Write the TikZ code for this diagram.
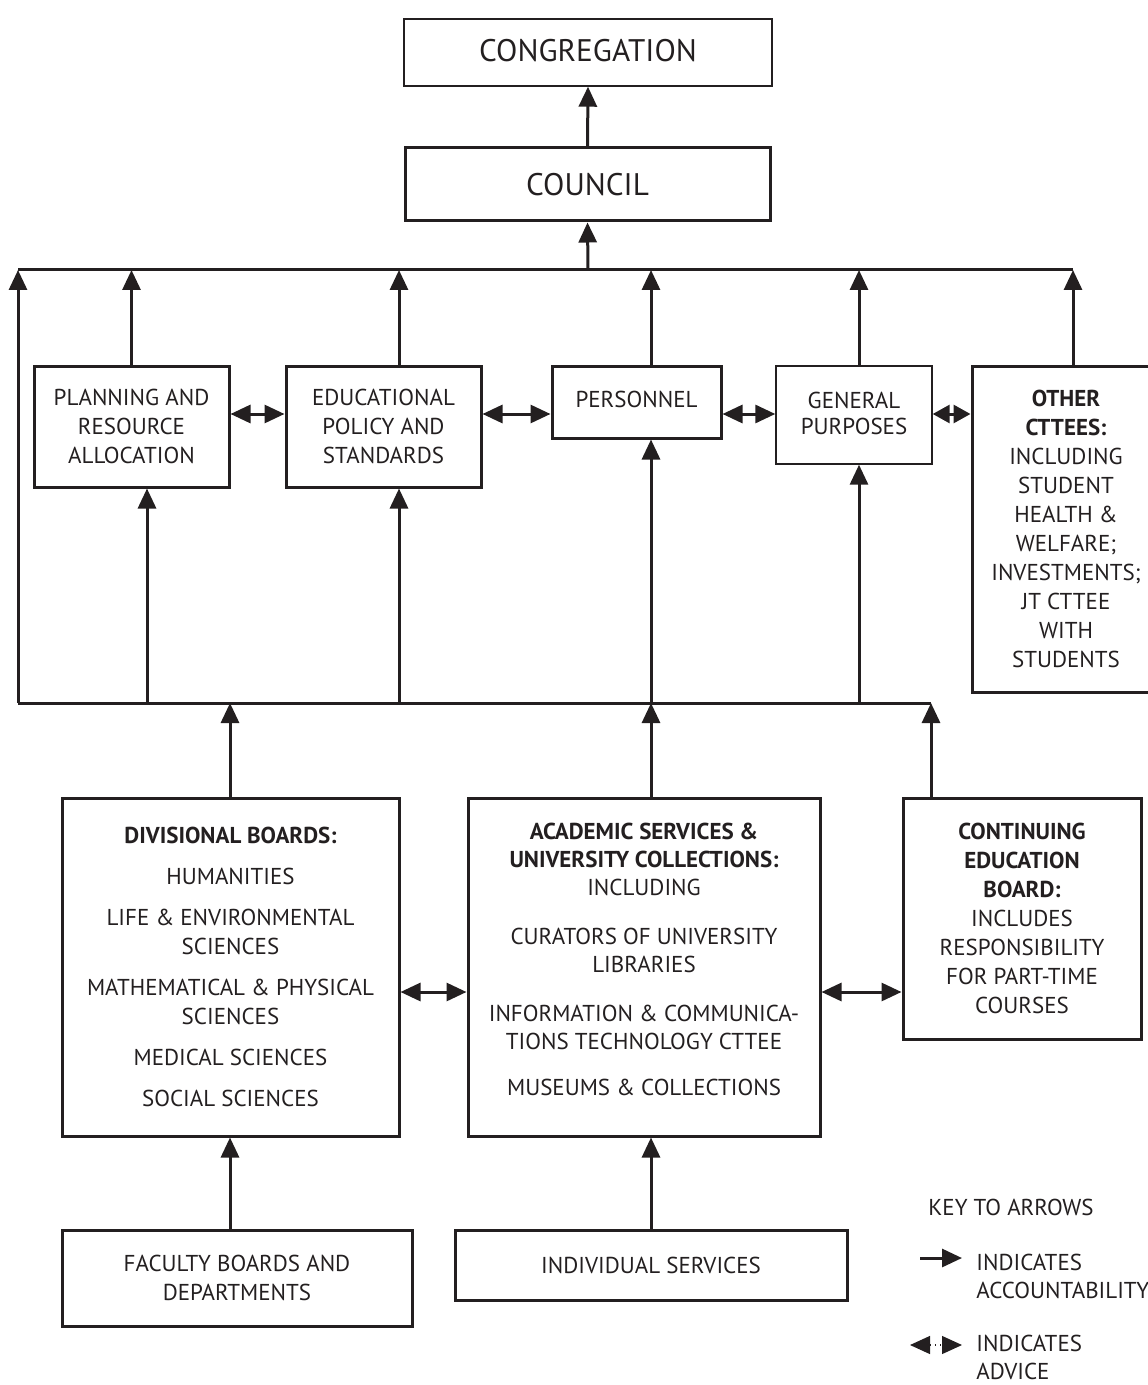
\documentclass[tikz,border=0pt]{standalone}
\usepackage{fontspec}
\setmainfont{PT Sans}
\usetikzlibrary{arrows.meta}
\definecolor{ink}{RGB}{35,31,32}
\begin{document}
\begin{tikzpicture}[x=0.5pt,y=-0.5pt,
  box/.style={draw=ink, line width=1.5pt, rectangle, inner sep=0pt, align=center, text=ink,
              font=\fontsize{11.5}{14.5}\selectfont},
  thinbox/.style={box, line width=0.7pt},
  big/.style={font=\fontsize{15.6}{19}\selectfont},
  acc/.style={draw=ink, line width=1.5pt, -{Triangle[length=10pt,width=9pt]}},
  adv/.style={draw=ink, line width=1.5pt, {Triangle[length=10pt,width=9pt]}-{Triangle[length=10pt,width=9pt]}},
  advshort/.style={draw=ink, line width=1.5pt, {Triangle[length=8.5pt,width=9pt]}-{Triangle[length=8.5pt,width=9pt]}},
  busline/.style={draw=ink, line width=1.5pt},
  plaintxt/.style={inner sep=0pt, align=center, text=ink, font=\fontsize{11.5}{14}\selectfont},
  keytxt/.style={inner sep=0pt, align=left, text=ink, font=\fontsize{11.5}{14}\selectfont}]
\useasboundingbox (0,0) rectangle (1147,1385);

% boxes
\node[thinbox, big, minimum width=184pt, minimum height=33.5pt] (cong) at (588,52.5) {\raisebox{2pt}{CONGREGATION}};
\node[box, big, minimum width=182.5pt, minimum height=36.5pt] (council) at (587.5,184.5) {COUNCIL};

\node[box, minimum width=97.5pt, minimum height=60.5pt] (plan) at (131.5,426.5) {PLANNING AND\\RESOURCE\\ALLOCATION};
\node[box, minimum width=97.5pt, minimum height=60.5pt] (edu) at (383.5,426.5) {EDUCATIONAL\\POLICY AND\\STANDARDS};
\node[box, minimum width=84.5pt, minimum height=36pt] (pers) at (636.5,402) {\raisebox{2.5pt}{PERSONNEL}};
\node[thinbox, minimum width=78pt, minimum height=49pt] (gp) at (854,415) {\raisebox{2pt}{\shortstack{GENERAL\\[1.5pt]PURPOSES}}};
\node[box, minimum width=94pt, minimum height=163pt] (other) at (1066,529)
  {\textbf{OTHER}\\\textbf{CTTEES:}\\INCLUDING\\STUDENT\\HEALTH \&\\WELFARE;\\INVESTMENTS;\\JT CTTEE\\WITH\\STUDENTS};

\node[box, minimum width=168.5pt, minimum height=169pt] (div) at (230.5,967)
  {\textbf{DIVISIONAL BOARDS:}\\[6pt]HUMANITIES\\[6pt]LIFE \& ENVIRONMENTAL\\SCIENCES\\[6pt]MATHEMATICAL \& PHYSICAL\\SCIENCES\\[6pt]MEDICAL SCIENCES\\[6pt]SOCIAL SCIENCES};
\node[box, minimum width=176pt, minimum height=169pt] (acad) at (644,967) {};
\node[plaintxt] (acadtxt) at (644,959)
  {\textbf{ACADEMIC SERVICES \&}\\\textbf{UNIVERSITY COLLECTIONS:}\\INCLUDING\\[10.5pt]CURATORS OF UNIVERSITY\\LIBRARIES\\[10.5pt]INFORMATION \& COMMUNICA-\\TIONS TECHNOLOGY CTTEE\\[9pt]MUSEUMS \& COLLECTIONS};
\node[box, minimum width=119pt, minimum height=120.5pt] (cont) at (1022,918.5)
  {\textbf{CONTINUING}\\\textbf{EDUCATION}\\\textbf{BOARD:}\\INCLUDES\\RESPONSIBILITY\\FOR PART-TIME\\COURSES};

\node[box, minimum width=175pt, minimum height=48pt] (fac) at (237,1278) {FACULTY BOARDS AND\\DEPARTMENTS};
\node[box, minimum width=196pt, minimum height=35pt] (ind) at (651,1265) {INDIVIDUAL SERVICES};

% helper coordinates
\coordinate (tbL) at (18,270);
\coordinate (tbR) at (1073,270);
\coordinate (tbC) at (588,270);
\coordinate (lbL) at (18,703);
\coordinate (lbR) at (931,703);
\coordinate (c147) at (147,0);
\coordinate (c399) at (399,0);
\coordinate (c651) at (651,0);
\coordinate (c859) at (859,0);
\coordinate (c1073) at (1073,0);
\coordinate (c230) at (230,0);
\coordinate (c931) at (931,0);
\coordinate (r414) at (0,414);
\coordinate (r992) at (0,992);

% buses
\draw[busline] (tbL) -- (tbR);
\draw[busline] (lbL) -- (lbR);

% top
\draw[acc] (council.north) -- (cong.south);
\draw[acc] (tbC) -- (council.south);

% committees up to top bus
\draw[acc] (lbL) -- (tbL);
\draw[acc] (plan.north) -- (plan.north |- tbL);
\draw[acc] (edu.north -| c399) -- (c399 |- tbL);
\draw[acc] (pers.north -| c651) -- (c651 |- tbL);
\draw[acc] (gp.north -| c859) -- (c859 |- tbL);
\draw[acc] (other.north -| c1073) -- (tbR);

% lower bus up to committees
\draw[acc] (c147 |- lbL) -- (plan.south -| c147);
\draw[acc] (c399 |- lbL) -- (edu.south -| c399);
\draw[acc] (c651 |- lbL) -- (pers.south -| c651);
\draw[acc] (c859 |- lbL) -- (gp.south -| c859);

% boards up to lower bus
\draw[acc] (div.north -| c230) -- (c230 |- lbL);
\draw[acc] (acad.north -| c651) -- (c651 |- lbL);
\draw[acc] (cont.north -| c931) -- (lbR);

% bottom
\draw[acc] (fac.north -| c230) -- (div.south -| c230);
\draw[acc] (ind.north -| c651) -- (acad.south -| c651);

% advice arrows
\draw[adv] (plan.east |- r414) -- (edu.west |- r414);
\draw[adv] (edu.east |- r414) -- (pers.west |- r414);
\draw[adv] (pers.east |- r414) -- (gp.west |- r414);
\draw[advshort] (gp.east |- r414) -- (other.west |- r414);
\draw[adv] (div.east |- r992) -- (acad.west |- r992);
\draw[adv] (acad.east |- r992) -- (cont.west |- r992);

% key
\node[keytxt, anchor=west] (keyt) at (928,1207) {KEY TO ARROWS};
\coordinate (ka1) at (920,1258);
\coordinate (ka2) at (962,1258);
\draw[acc] (ka1) -- (ka2);
\node[keytxt, anchor=west] (keyacc) at (976,1276) {INDICATES\\ACCOUNTABILITY};
\coordinate (kb1) at (910,1345);
\coordinate (kb2) at (962,1345);
\draw[draw=ink, line width=0.6pt, dotted, {Triangle[length=10pt,width=9pt]}-{Triangle[length=10pt,width=9pt]}] (kb1) -- (kb2);
\node[keytxt, anchor=west] (keyadv) at (976,1357) {INDICATES\\ADVICE};
\end{tikzpicture}
\end{document}
